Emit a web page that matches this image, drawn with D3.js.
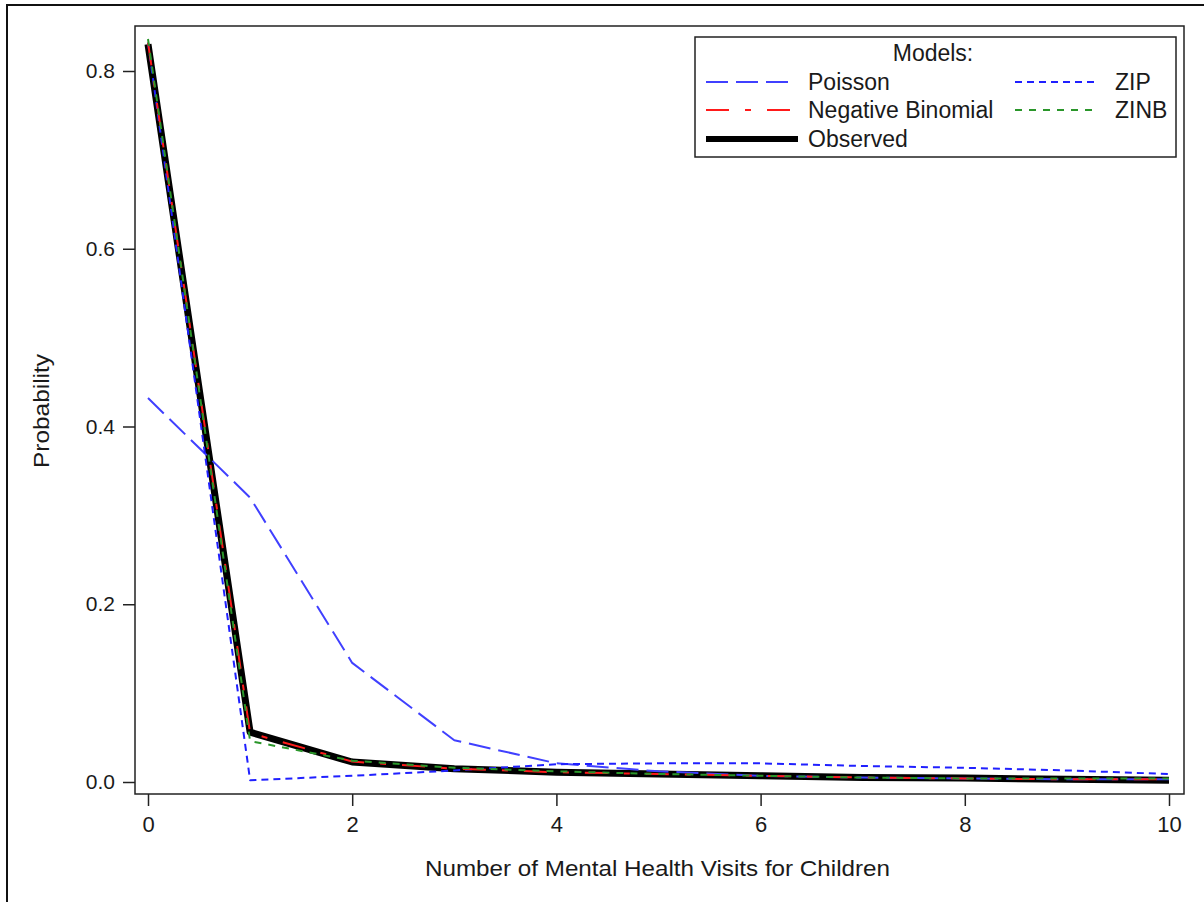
<!DOCTYPE html>
<html>
<head>
<meta charset="utf-8">
<script src="https://cdn.jsdelivr.net/npm/d3@7"></script>
<style>
  html, body { margin: 0; padding: 0; background: #fff; }
  svg { display: block; }
  text { font-family: "Liberation Sans", Arial, sans-serif; fill: #1a1a1a; }
</style>
</head>
<body>
<svg id="chart" width="1204" height="902"></svg>
<script>
// ---- data ----
const visits = [0, 1, 2, 3, 4, 5, 6, 7, 8, 9, 10];
const observed = [0.830, 0.056, 0.0225, 0.015, 0.011, 0.009, 0.007, 0.005, 0.0045, 0.003, 0.002];
const poisson  = [0.432, 0.320, 0.134, 0.047, 0.021, 0.012, 0.007, 0.005, 0.004, 0.003, 0.003];
const negBin   = [0.832, 0.055, 0.023, 0.015, 0.011, 0.009, 0.007, 0.005, 0.004, 0.003, 0.003];
const zip      = [0.832, 0.002, 0.007, 0.013, 0.020, 0.021, 0.021, 0.018, 0.016, 0.013, 0.009];
const zinb     = [0.836, 0.046, 0.024, 0.016, 0.012, 0.009, 0.007, 0.005, 0.004, 0.004, 0.004];
const xTicks = [0, 2, 4, 6, 8, 10];
const yTicks = [0.0, 0.2, 0.4, 0.6, 0.8];
const legendTitle = "Models:";
const xTitle = "Number of Mental Health Visits for Children";
const yTitle = "Probability";

const series = [
  { name: "Observed", values: observed, color: "#000000", width: 7, dash: null, col: 0, row: 2 },
  { name: "Poisson", values: poisson, color: "#4040ff", width: 2, dash: "22,8", col: 0, row: 0 },
  { name: "ZIP", values: zip, color: "#2020ff", width: 2, dash: "7,5", col: 1, row: 0 },
  { name: "Negative Binomial", values: negBin, color: "#ff1a1a", width: 2, dash: "23,16,6,16", col: 0, row: 1 },
  { name: "ZINB", values: zinb, color: "#2a962a", width: 2, dash: "7,7", col: 1, row: 1 }
];

const svg = d3.select("#chart");

// outer border
svg.append("rect").attr("x", 7).attr("y", 5).attr("width", 1220).attr("height", 930)
  .attr("fill", "none").attr("stroke", "#111").attr("stroke-width", 2);

const frame = { left: 135, top: 26, right: 1184, bottom: 794 };
const x = d3.scaleLinear().domain([0, 10]).range([148, 1169]);
const y = d3.scaleLinear().domain([0, 0.8]).range([782, 71]);

// axes
const xAxis = d3.axisBottom(x).tickValues(xTicks).tickFormat(d3.format("d")).tickSize(12).tickPadding(10);
const gx = svg.append("g").attr("transform", `translate(0,${frame.bottom})`).call(xAxis);
gx.select(".domain").remove();
gx.selectAll("line").attr("stroke", "#222").attr("stroke-width", 1.5);
gx.selectAll("text").attr("font-size", 22).style("fill", "#1a1a1a")
  .attr("font-family", "Liberation Sans, Arial, sans-serif");

const yAxis = d3.axisLeft(y).tickValues(yTicks).tickFormat(d3.format(".1f")).tickSize(12).tickPadding(8);
const gy = svg.append("g").attr("transform", `translate(${frame.left},0)`).call(yAxis);
gy.select(".domain").remove();
gy.selectAll("line").attr("stroke", "#222").attr("stroke-width", 1.5);
gy.selectAll("text").attr("font-size", 21).style("fill", "#1a1a1a")
  .attr("font-family", "Liberation Sans, Arial, sans-serif");

// lines
const line = d3.line().x((d, i) => x(visits[i])).y(d => y(d));
const plot = svg.append("g");
series.forEach(s => {
  plot.append("path")
    .datum(s.values)
    .attr("d", line)
    .attr("fill", "none")
    .attr("stroke", s.color)
    .attr("stroke-width", s.width)
    .attr("stroke-linejoin", "round")
    .attr("stroke-dasharray", s.dash);
});

// frame
svg.append("rect").attr("x", frame.left).attr("y", frame.top)
  .attr("width", frame.right - frame.left).attr("height", frame.bottom - frame.top)
  .attr("fill", "none").attr("stroke", "#222").attr("stroke-width", 1.5);

// axis titles
svg.append("text").attr("x", (frame.left + frame.right) / 2 - 2).attr("y", 876)
  .attr("text-anchor", "middle").attr("font-size", 22)
  .attr("textLength", 465).attr("lengthAdjust", "spacingAndGlyphs")
  .text(xTitle);
svg.append("text").attr("transform", "translate(49,411) rotate(-90)")
  .attr("text-anchor", "middle").attr("font-size", 22)
  .attr("textLength", 114).attr("lengthAdjust", "spacingAndGlyphs")
  .text(yTitle);

// legend
const lg = svg.append("g");
lg.append("rect").attr("x", 695).attr("y", 37).attr("width", 481).attr("height", 120)
  .attr("fill", "#fff").attr("stroke", "#222").attr("stroke-width", 1.5);
lg.append("text").attr("x", 933).attr("y", 61).attr("text-anchor", "middle")
  .attr("font-size", 23).text(legendTitle);
const colX = [{ s0: 706, s1: 790, t: 808 }, { s0: 1015, s1: 1097, t: 1115 }];
const rowY = [82, 110, 139];
[series[1], series[2], series[3], series[4], series[0]].forEach(s => {
  const c = colX[s.col], ry = rowY[s.row];
  lg.append("line").attr("x1", c.s0).attr("x2", s.name === "Observed" ? c.s1 + 8 : c.s1)
    .attr("y1", ry).attr("y2", ry)
    .attr("stroke", s.color).attr("stroke-width", s.name === "Observed" ? 6 : 2)
    .attr("stroke-dasharray", s.dash);
  lg.append("text").attr("x", c.t).attr("y", ry).attr("dy", "0.36em")
    .attr("font-size", 23).text(s.name);
});
</script>
</body>
</html>
